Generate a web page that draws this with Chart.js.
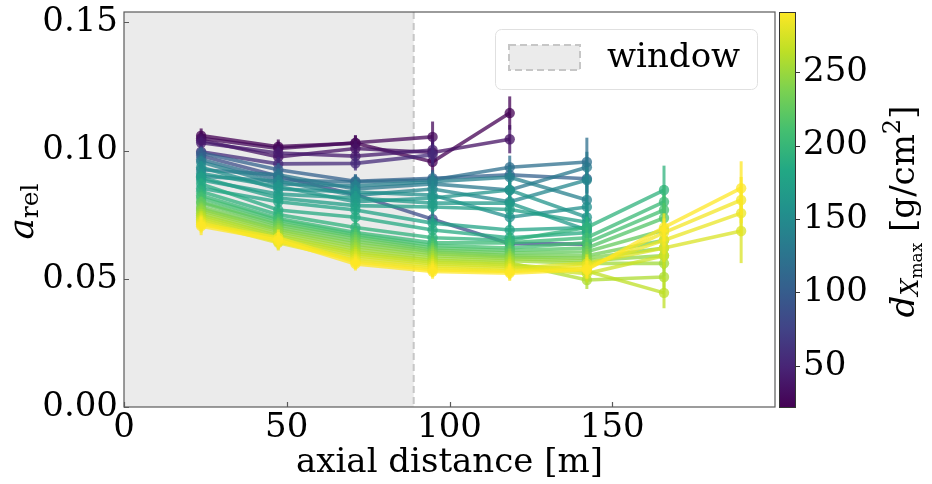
<!DOCTYPE html>
<html>
<head>
<meta charset="utf-8">
<script src="https://cdn.jsdelivr.net/npm/chart.js@4.4.1/dist/chart.umd.min.js"></script>
<style>
  html, body { margin: 0; padding: 0; background: #fff; overflow: hidden; }
  #wrap { width: 932px; height: 484px; position: relative; }
</style>
</head>
<body>
<div id="wrap"><canvas id="c" width="932" height="484"></canvas></div>
<script>
// Axial distances of the antenna rings [m]
const distances = [23.7, 47.4, 71.1, 94.8, 118.5, 142.2, 165.9, 189.6];

// Distance to shower maximum of each shower [g/cm^2]
const dXmax = [22, 28, 35, 42, 55, 85, 105, 120, 130, 138, 146, 154, 160, 166, 172, 178, 186,
               194, 202, 210, 218, 226, 233, 240, 246, 252, 258, 264, 270, 276, 283, 287, 291];

// Relative amplitude per shower, one value per ring (starting at the first ring)
const aRel = [
  [0.1058, 0.1015, 0.1028, 0.0956, 0.1146],
  [0.1048, 0.1008, 0.1030, 0.1053],
  [0.1040, 0.0975, 0.1008, 0.0992, 0.1044],
  [0.1030, 0.0990, 0.0978, 0.1002],
  [0.0995, 0.0948, 0.0950, 0.0983],
  [0.0980, 0.0900, 0.0828, 0.0732, 0.0637, 0.0635],
  [0.0990, 0.0925, 0.0880, 0.0892, 0.0905, 0.0890],
  [0.0965, 0.0885, 0.0877, 0.0885, 0.0935, 0.0955],
  [0.0925, 0.0905, 0.0850, 0.0870, 0.0846, 0.0935],
  [0.0955, 0.0870, 0.0862, 0.0878, 0.0896, 0.0807],
  [0.0900, 0.0880, 0.0825, 0.0850, 0.0800, 0.0885],
  [0.0935, 0.0850, 0.0838, 0.0826, 0.0740, 0.0780],
  [0.0910, 0.0860, 0.0800, 0.0815, 0.0846, 0.0740],
  [0.0885, 0.0830, 0.0815, 0.0795, 0.0795, 0.0690],
  [0.0895, 0.0815, 0.0785, 0.0780, 0.0770, 0.0720],
  [0.0853, 0.0800, 0.0768, 0.0717, 0.0690, 0.0700],
  [0.0870, 0.0768, 0.0740, 0.0690, 0.0660, 0.0680],
  [0.0840, 0.0750, 0.0700, 0.0660, 0.0650, 0.0700, 0.0846],
  [0.0825, 0.0735, 0.0680, 0.0640, 0.0640, 0.0660, 0.0800],
  [0.0815, 0.0728, 0.0672, 0.0630, 0.0620, 0.0640, 0.0768],
  [0.0800, 0.0717, 0.0665, 0.0620, 0.0610, 0.0620, 0.0737],
  [0.0795, 0.0710, 0.0655, 0.0612, 0.0600, 0.0605, 0.0690],
  [0.0780, 0.0700, 0.0645, 0.0605, 0.0590, 0.0590, 0.0650],
  [0.0772, 0.0692, 0.0635, 0.0598, 0.0585, 0.0580, 0.0620],
  [0.0765, 0.0685, 0.0625, 0.0590, 0.0578, 0.0570, 0.0590],
  [0.0755, 0.0675, 0.0615, 0.0580, 0.0570, 0.0560, 0.0560],
  [0.0748, 0.0668, 0.0605, 0.0572, 0.0562, 0.0495, 0.0507],
  [0.0740, 0.0660, 0.0598, 0.0565, 0.0555, 0.0530, 0.0445],
  [0.0732, 0.0652, 0.0590, 0.0558, 0.0548, 0.0520, 0.0590],
  [0.0725, 0.0645, 0.0580, 0.0550, 0.0540, 0.0560, 0.0620, 0.0686],
  [0.0718, 0.0640, 0.0572, 0.0542, 0.0532, 0.0550, 0.0650, 0.0756],
  [0.0712, 0.0660, 0.0565, 0.0535, 0.0528, 0.0540, 0.0680, 0.0807],
  [0.0705, 0.0650, 0.0558, 0.0528, 0.0522, 0.0535, 0.0700, 0.0853]
];

// Statistical uncertainty of each value
const aErr = [
  [0.0028, 0.0028, 0.0030, 0.0045, 0.0065],
  [0.0025, 0.0026, 0.0030, 0.0060],
  [0.0025, 0.0028, 0.0030, 0.0042, 0.0055],
  [0.0025, 0.0026, 0.0028, 0.0045],
  [0.0025, 0.0026, 0.0028, 0.0042],
  [0.0025, 0.0026, 0.0028, 0.0035, 0.0040, 0.0045],
  [0.0025, 0.0026, 0.0028, 0.0032, 0.0040, 0.0060],
  [0.0025, 0.0026, 0.0028, 0.0032, 0.0045, 0.0095],
  [0.0024, 0.0025, 0.0027, 0.0030, 0.0040, 0.0060],
  [0.0024, 0.0025, 0.0027, 0.0030, 0.0040, 0.0055],
  [0.0024, 0.0025, 0.0027, 0.0030, 0.0038, 0.0050],
  [0.0024, 0.0025, 0.0027, 0.0030, 0.0038, 0.0050],
  [0.0024, 0.0025, 0.0027, 0.0030, 0.0036, 0.0048],
  [0.0024, 0.0025, 0.0027, 0.0030, 0.0036, 0.0048],
  [0.0024, 0.0025, 0.0027, 0.0030, 0.0035, 0.0045],
  [0.0024, 0.0025, 0.0027, 0.0030, 0.0035, 0.0045],
  [0.0024, 0.0025, 0.0027, 0.0030, 0.0035, 0.0045],
  [0.0024, 0.0025, 0.0026, 0.0028, 0.0032, 0.0040, 0.0095],
  [0.0024, 0.0025, 0.0026, 0.0028, 0.0032, 0.0040, 0.0065],
  [0.0024, 0.0025, 0.0026, 0.0028, 0.0032, 0.0040, 0.0060],
  [0.0024, 0.0025, 0.0026, 0.0028, 0.0032, 0.0040, 0.0058],
  [0.0024, 0.0025, 0.0026, 0.0028, 0.0031, 0.0038, 0.0055],
  [0.0024, 0.0025, 0.0026, 0.0028, 0.0031, 0.0038, 0.0055],
  [0.0024, 0.0025, 0.0026, 0.0028, 0.0031, 0.0036, 0.0052],
  [0.0024, 0.0025, 0.0026, 0.0028, 0.0030, 0.0036, 0.0052],
  [0.0024, 0.0025, 0.0026, 0.0028, 0.0030, 0.0035, 0.0050],
  [0.0024, 0.0025, 0.0026, 0.0028, 0.0030, 0.0035, 0.0050],
  [0.0024, 0.0025, 0.0026, 0.0028, 0.0030, 0.0035, 0.0060],
  [0.0030, 0.0030, 0.0026, 0.0028, 0.0030, 0.0035, 0.0050],
  [0.0030, 0.0030, 0.0026, 0.0028, 0.0030, 0.0035, 0.0055, 0.0125],
  [0.0030, 0.0030, 0.0026, 0.0028, 0.0030, 0.0035, 0.0055, 0.0090],
  [0.0032, 0.0032, 0.0026, 0.0028, 0.0030, 0.0035, 0.0055, 0.0090],
  [0.0035, 0.0032, 0.0026, 0.0028, 0.0030, 0.0035, 0.0055, 0.0105]
];

const xTicks = [0, 50, 100, 150];
const yTicks = [0.00, 0.05, 0.10, 0.15];
const cbTicks = [50, 100, 150, 200, 250];
const cbRange = [22, 291];
const windowEnd = 89;

const FONT = "'DejaVu Serif', 'Liberation Serif', serif";

// viridis colour map
const viridisStops = ['#440154', '#482475', '#414487', '#355f8d', '#2a788e', '#21918c',
                      '#22a884', '#44bf70', '#7ad151', '#bddf26', '#fde725'];
function hexRgb(h) { return [1, 3, 5].map(i => parseInt(h.substr(i, 2), 16)); }
function viridis(t) {
  t = Math.min(1, Math.max(0, t));
  const n = viridisStops.length - 1;
  const i = Math.min(n - 1, Math.floor(t * n));
  const f = t * n - i;
  const a = hexRgb(viridisStops[i]), b = hexRgb(viridisStops[i + 1]);
  return a.map((v, k) => Math.round(v + (b[k] - v) * f));
}

const datasets = dXmax.map((d, k) => {
  const c = viridis((d - cbRange[0]) / (cbRange[1] - cbRange[0]));
  const col = `rgba(${c[0]},${c[1]},${c[2]},0.75)`;
  return {
    label: String(d),
    data: aRel[k].map((v, i) => ({ x: distances[i], y: v })),
    errors: aErr[k],
    borderColor: col,
    backgroundColor: col,
    borderWidth: 3.6,
    pointRadius: 5.2,
    pointBorderWidth: 0,
    pointHoverRadius: 5.2,
    tension: 0,
    order: -k,
    xAxisID: 'x',
    yAxisID: 'y'
  };
});

// vertical error bars, drawn just before each series
const errorBars = {
  id: 'errorBars',
  beforeDatasetDraw(chart, args) {
    const ds = chart.data.datasets[args.index];
    const xs = chart.scales.x, ys = chart.scales.y;
    const ctx = chart.ctx;
    ctx.save();
    ctx.strokeStyle = ds.borderColor;
    ctx.lineWidth = 3;
    ds.data.forEach((p, i) => {
      const e = ds.errors[i];
      const px = xs.getPixelForValue(p.x);
      ctx.beginPath();
      ctx.moveTo(px, ys.getPixelForValue(p.y - e));
      ctx.lineTo(px, ys.getPixelForValue(p.y + e));
      ctx.stroke();
    });
    ctx.restore();
  }
};

// shaded fit window and its dashed edge
const windowShade = {
  id: 'windowShade',
  beforeDatasetsDraw(chart) {
    const { ctx, chartArea: a } = chart;
    const xe = chart.scales.x.getPixelForValue(windowEnd);
    ctx.save();
    ctx.fillStyle = '#ebebeb';
    ctx.fillRect(a.left, a.top, xe - a.left, a.bottom - a.top);
    ctx.strokeStyle = '#c6c6c6';
    ctx.lineWidth = 2;
    ctx.setLineDash([7, 4]);
    ctx.beginPath();
    ctx.moveTo(xe, a.top);
    ctx.lineTo(xe, a.bottom);
    ctx.stroke();
    ctx.restore();
  }
};

function drawRich(ctx, cx, cy, rot, parts) {
  ctx.save();
  ctx.translate(cx, cy);
  ctx.rotate(rot);
  let total = 0;
  parts.forEach(p => { ctx.font = p.font; p.w = ctx.measureText(p.text).width; total += p.w; });
  let x = -total / 2;
  ctx.textAlign = 'left';
  ctx.textBaseline = 'alphabetic';
  ctx.fillStyle = '#000';
  parts.forEach(p => { ctx.font = p.font; ctx.fillText(p.text, x, p.dy); x += p.w; });
  ctx.restore();
}

// frame, inward ticks, legend, colour bar and the rich-text axis labels
const decorations = {
  id: 'decorations',
  afterDatasetsDraw(chart) {
    const { ctx, chartArea: a } = chart;
    const xs = chart.scales.x, ys = chart.scales.y, cb = chart.scales.cb;
    ctx.save();

    // frame
    ctx.strokeStyle = '#5a5a5a';
    ctx.lineWidth = 1.2;
    ctx.strokeRect(a.left, a.top, a.right - a.left, a.bottom - a.top);

    // inward tick marks
    ctx.beginPath();
    xTicks.forEach(v => {
      const px = Math.round(xs.getPixelForValue(v)) + 0.5;
      ctx.moveTo(px, a.bottom); ctx.lineTo(px, a.bottom - 5);
    });
    yTicks.forEach(v => {
      const py = Math.round(ys.getPixelForValue(v)) + 0.5;
      ctx.moveTo(a.left, py); ctx.lineTo(a.left + 5, py);
    });
    ctx.stroke();

    // legend
    const lx = a.right - 280, ly = a.top + 17, lw = 262, lh = 60;
    ctx.fillStyle = 'rgba(255,255,255,0.85)';
    ctx.strokeStyle = '#e0e0e0';
    ctx.lineWidth = 1;
    ctx.beginPath();
    ctx.roundRect(lx + 0.5, ly + 0.5, lw, lh, 6);
    ctx.fill();
    ctx.stroke();
    ctx.fillStyle = '#ebebeb';
    ctx.fillRect(lx + 14, ly + 16, 71, 25);
    ctx.strokeStyle = '#c6c6c6';
    ctx.lineWidth = 2;
    ctx.setLineDash([7, 4]);
    ctx.strokeRect(lx + 14, ly + 16, 71, 25);
    ctx.setLineDash([]);
    ctx.fillStyle = '#000';
    ctx.font = `34px ${FONT}`;
    ctx.textAlign = 'left';
    ctx.textBaseline = 'middle';
    ctx.fillText('window', lx + 112, ly + 29);

    // colour bar
    const bx = a.right + 4, bw = 16;
    const top = cb.getPixelForValue(cbRange[1]), bot = cb.getPixelForValue(cbRange[0]);
    const g = ctx.createLinearGradient(0, bot, 0, top);
    viridisStops.forEach((s, i) => g.addColorStop(i / (viridisStops.length - 1), s));
    ctx.fillStyle = g;
    ctx.fillRect(bx, top, bw, bot - top);
    ctx.strokeStyle = '#333';
    ctx.lineWidth = 1;
    ctx.strokeRect(bx + 0.5, top + 0.5, bw, bot - top);
    ctx.beginPath();
    cbTicks.forEach(v => {
      const py = Math.round(cb.getPixelForValue(v)) + 0.5;
      ctx.moveTo(bx + bw, py); ctx.lineTo(bx + bw + 5, py);
    });
    ctx.stroke();
    ctx.restore();

    // y-axis label a_rel
    drawRich(ctx, 33, (a.top + a.bottom) / 2 + 2, -Math.PI / 2, [
      { text: 'a', font: `italic 36px ${FONT}`, dy: 0 },
      { text: 'rel', font: `25px ${FONT}`, dy: 5 }
    ]);
    // colour bar label d_{X_max} [g/cm^2]
    drawRich(ctx, 914, (a.top + a.bottom) / 2 + 2, -Math.PI / 2, [
      { text: 'd', font: `italic 34px ${FONT}`, dy: 0 },
      { text: 'X', font: `italic 24px ${FONT}`, dy: 4 },
      { text: 'max', font: `17px ${FONT}`, dy: 8 },
      { text: ' [g/cm', font: `34px ${FONT}`, dy: 0 },
      { text: '2', font: `24px ${FONT}`, dy: -14 },
      { text: ']', font: `34px ${FONT}`, dy: 0 }
    ]);
  }
};

// fixed axis boxes so the plotting area sits where it should
function fixBox(size) {
  return s => {
    if (s.isHorizontal()) s.height = size; else s.width = size;
    s.paddingTop = 0; s.paddingBottom = 0; s.paddingLeft = 0; s.paddingRight = 0;
  };
}

new Chart(document.getElementById('c'), {
  type: 'line',
  data: { datasets },
  options: {
    responsive: false,
    animation: false,
    devicePixelRatio: 1,
    events: [],
    layout: { padding: { top: 12, left: 0, right: 0, bottom: 0 } },
    plugins: { legend: { display: false }, tooltip: { enabled: false } },
    scales: {
      x: {
        type: 'linear', position: 'bottom', min: 0, max: 200,
        afterBuildTicks: s => { s.ticks = xTicks.map(v => ({ value: v })); },
        afterFit: fixBox(77),
        grid: { display: false, drawTicks: false },
        border: { display: false },
        ticks: { font: { family: FONT, size: 34 }, color: '#000', padding: 1, maxRotation: 0, autoSkip: false,
                 callback: v => String(v) },
        title: { display: true, text: 'axial distance [m]', color: '#000',
                 font: { family: FONT, size: 34 }, padding: { top: 0, bottom: 0 } }
      },
      y: {
        type: 'linear', position: 'left', min: 0, max: 0.154,
        afterBuildTicks: s => { s.ticks = yTicks.map(v => ({ value: v })); },
        afterFit: fixBox(124),
        grid: { display: false, drawTicks: false },
        border: { display: false },
        ticks: { font: { family: FONT, size: 34 }, color: '#000', padding: 6, autoSkip: false,
                 callback: v => v.toFixed(2) }
      },
      cb: {
        type: 'linear', position: 'right', min: cbRange[0], max: cbRange[1],
        afterBuildTicks: s => { s.ticks = cbTicks.map(v => ({ value: v })); },
        afterFit: fixBox(157),
        grid: { display: false, drawTicks: false },
        border: { display: false },
        ticks: { font: { family: FONT, size: 34 }, color: '#000', padding: 28, autoSkip: false,
                 callback: v => String(v) }
      }
    }
  },
  plugins: [windowShade, errorBars, decorations]
});
</script>
</body>
</html>
